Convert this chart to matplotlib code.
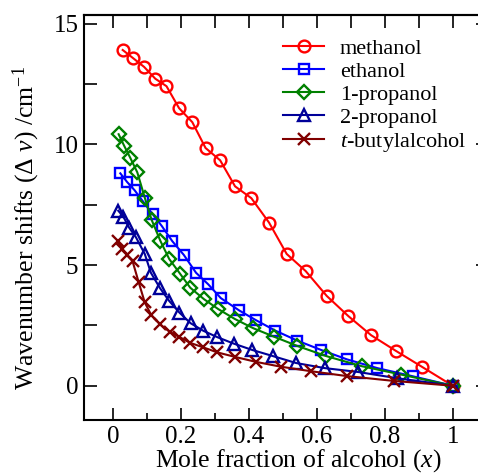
import matplotlib
matplotlib.use('Agg')
import matplotlib.pyplot as plt
from matplotlib.ticker import MultipleLocator

plt.rcParams['font.family'] = ['Liberation Serif', 'DejaVu Serif']
plt.rcParams['mathtext.fontset'] = 'custom'
plt.rcParams['mathtext.rm'] = 'Liberation Serif'
plt.rcParams['mathtext.it'] = 'Liberation Serif:italic'

# Data
x_methanol = [0.028, 0.057, 0.091, 0.124, 0.157, 0.194, 0.233, 0.272, 0.315, 0.359,
              0.407, 0.459, 0.511, 0.567, 0.629, 0.693, 0.760, 0.832, 0.911, 1.0]
y_methanol = [13.91, 13.59, 13.21, 12.72, 12.41, 11.50, 10.92, 9.85, 9.34, 8.26,
              7.77, 6.76, 5.46, 4.75, 3.72, 2.88, 2.09, 1.45, 0.77, 0.0]

x_ethanol = [0.021, 0.041, 0.063, 0.087, 0.116, 0.143, 0.174, 0.208, 0.244, 0.280,
             0.317, 0.371, 0.420, 0.478, 0.542, 0.611, 0.689, 0.778, 0.883, 1.0]
y_ethanol = [8.80, 8.44, 8.10, 7.65, 7.11, 6.62, 5.99, 5.42, 4.68, 4.20,
             3.63, 3.12, 2.72, 2.28, 1.87, 1.49, 1.09, 0.73, 0.39, 0.0]

x_1propanol = [0.016, 0.032, 0.050, 0.071, 0.093, 0.113, 0.139, 0.165, 0.197, 0.227,
               0.268, 0.310, 0.359, 0.413, 0.474, 0.542, 0.627, 0.732, 0.849, 1.0]
y_1propanol = [10.42, 9.95, 9.45, 8.84, 7.79, 6.88, 6.00, 5.25, 4.64, 4.06,
               3.58, 3.17, 2.76, 2.38, 2.03, 1.65, 1.23, 0.81, 0.46, 0.0]

x_2propanol = [0.015, 0.030, 0.047, 0.067, 0.093, 0.111, 0.138, 0.165, 0.195, 0.228,
               0.265, 0.307, 0.356, 0.410, 0.470, 0.539, 0.623, 0.721, 0.837, 1.0]
y_2propanol = [7.25, 7.00, 6.55, 6.15, 5.46, 4.68, 4.04, 3.51, 3.03, 2.59,
               2.28, 2.01, 1.74, 1.48, 1.23, 0.94, 0.73, 0.57, 0.31, 0.0]

x_tbutyl = [0.013, 0.027, 0.042, 0.057, 0.075, 0.093, 0.112, 0.138, 0.166, 0.194,
            0.226, 0.265, 0.307, 0.360, 0.420, 0.493, 0.583, 0.688, 0.826, 1.0]
y_tbutyl = [5.99, 5.67, 5.40, 5.16, 4.29, 3.45, 2.93, 2.54, 2.24, 2.03,
            1.78, 1.59, 1.38, 1.19, 0.99, 0.79, 0.60, 0.40, 0.20, 0.0]

x_ticks = [0, 0.2, 0.4, 0.6, 0.8, 1.0]
x_ticklabels = ['0', '0.2', '0.4', '0.6', '0.8', '1']

W, H = 478, 473
fig = plt.figure(figsize=(W / 100, H / 100), dpi=100)
ax = fig.add_axes([84 / W, 1 - 420 / H, (488 - 84) / W, (420 - 15) / H])

series = [
    (x_methanol, y_methanol, 'methanol', '#ff0000', 'o', 8.5),
    (x_ethanol, y_ethanol, 'ethanol', '#0000ff', 's', 7),
    (x_1propanol, y_1propanol, '1-propanol', '#008000', 'D', 7),
    (x_2propanol, y_2propanol, '2-propanol', '#000099', '^', 8),
    (x_tbutyl, y_tbutyl, r'$\mathit{t}$-butylalcohol', '#800000', 'x', 8),
]
for xs, ys, lab, col, mk, ms in series:
    ax.plot(xs, ys, color=col, lw=1.5, marker=mk, ms=ms, mfc='none',
            mec=col, mew=1.7, label=lab)

ax.set_xlim(-0.086, 1.104)
ax.set_ylim(-1.42, 15.36)

for s in ax.spines.values():
    s.set_linewidth(1.5)

ax.set_xticks(x_ticks)
ax.set_xticklabels(x_ticklabels)
ax.xaxis.set_minor_locator(MultipleLocator(0.1))
ax.yaxis.set_major_locator(MultipleLocator(5))
ax.yaxis.set_minor_locator(MultipleLocator(2.5))
ax.tick_params(which='both', direction='in', top=False, right=False, width=1.2, labelsize=18, pad=4)
ax.tick_params(axis='x', which='major', length=9)
ax.tick_params(axis='x', which='minor', length=5)
ax.tick_params(axis='y', which='both', length=9)

top = ax.secondary_xaxis('top')
top.set_xticks([i / 10 for i in range(11)])
top.tick_params(direction='in', length=9, width=1.2, labeltop=False)
top.spines['top'].set_linewidth(1.5)
right = ax.secondary_yaxis('right')
right.set_yticks([0, 5, 10, 15])
right.tick_params(direction='in', length=9, width=1.2, labelright=False)

fig.text(298 / W, 1 - 461 / H, r'Mole fraction of alcohol ($\mathit{x}$)', fontsize=18.5,
         ha='center', va='center')
fig.text(26 / W, 1 - 228 / H, r'Wavenumber shifts ($\mathit{Δ\ ν}$) /cm$^{-1}$', fontsize=18.5,
         ha='center', va='center', rotation=90)

ax.legend(loc='upper left', bbox_to_anchor=(283 / W, 1 - 38 / H), bbox_transform=fig.transFigure,
          frameon=False, fontsize=16, numpoints=1, handlelength=1.85, handletextpad=0.7,
          labelspacing=0.12, borderpad=0, borderaxespad=0)

fig.savefig('out.png', dpi=100)
